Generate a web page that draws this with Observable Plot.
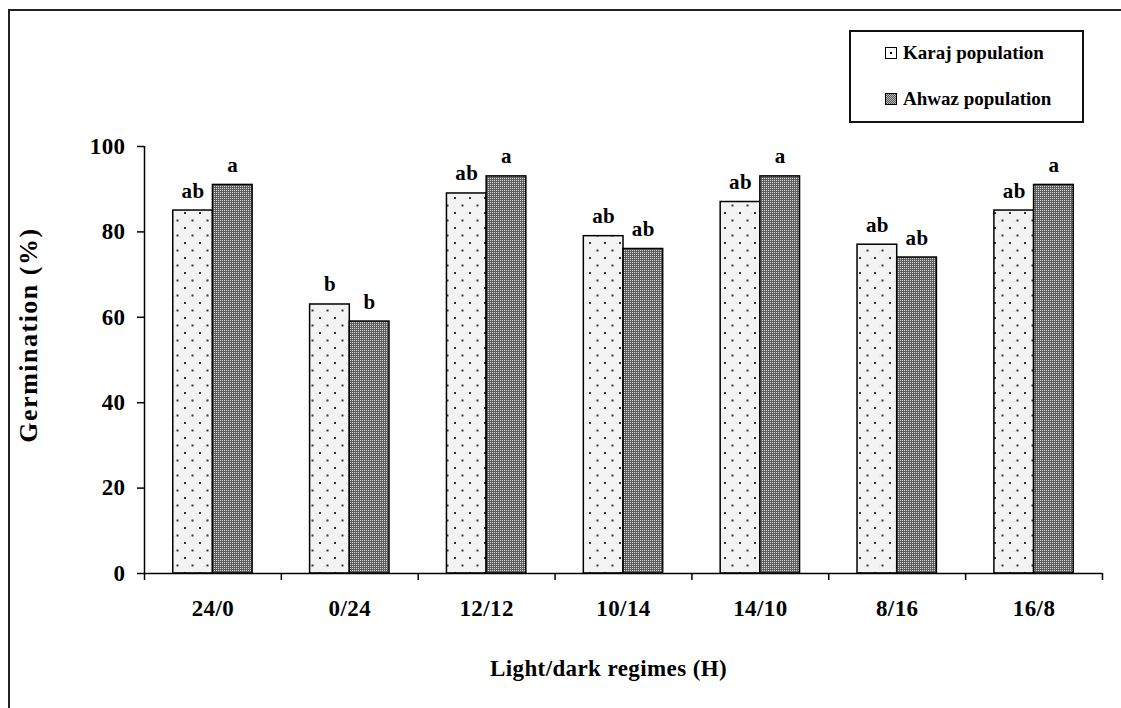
<!DOCTYPE html>
<html>
<head>
<meta charset="utf-8">
<script src="https://cdn.jsdelivr.net/npm/d3@7"></script>
<script src="https://cdn.jsdelivr.net/npm/@observablehq/plot@0.6"></script>
<style>
  html, body { margin: 0; padding: 0; background: #fff; }
  #wrap { position: relative; width: 1121px; height: 708px; overflow: hidden; font-family: "Liberation Serif", "Times New Roman", serif; }
  #frame { position: absolute; left: 8px; top: 9px; width: 1200px; height: 800px; border-left: 2px solid #222; border-top: 2px solid #222; }
  #chart { position: absolute; left: 0; top: 0; }
  #chart svg text { letter-spacing: 0.4px; }
  #legend { position: absolute; left: 849px; top: 30px; width: 231px; height: 89px; border: 2px solid #111; background: #fff; }
  .item { position: absolute; left: 34px; display: flex; align-items: center; font-weight: bold; font-size: 19px; color: #000; }
  .sw { width: 10px; height: 10px; border: 1px solid #000; margin-right: 6px; box-sizing: content-box; }
</style>
</head>
<body>
<div id="wrap">
  <div id="frame"></div>
  <div id="chart"></div>
  <div id="legend"></div>
</div>
<script>
// ---- data ----
const regimes = ["24/0", "0/24", "12/12", "10/14", "14/10", "8/16", "16/8"];
const karajValues = [85, 63, 89, 79, 87, 77, 85];
const ahwazValues = [91, 59, 93, 76, 93, 74, 91];
const karajLetters = ["ab", "b", "ab", "ab", "ab", "ab", "ab"];
const ahwazLetters = ["a", "b", "a", "ab", "a", "ab", "a"];
const seriesNames = ["Karaj population", "Ahwaz population"];
const yTicks = [0, 20, 40, 60, 80, 100];
const xTitle = "Light/dark regimes (H)";
const yTitle = "Germination (%)";

const karaj = regimes.map((r, i) => ({regime: r, i, value: karajValues[i], letter: karajLetters[i]}));
const ahwaz = regimes.map((r, i) => ({regime: r, i, value: ahwazValues[i], letter: ahwazLetters[i]}));

const family = "Liberation Serif, Times New Roman, serif";
const font = {fontFamily: family, fontWeight: "bold", fontSize: 23};

const plot = Plot.plot({
  width: 1121,
  height: 708,
  marginLeft: 144,
  marginRight: 19,
  marginTop: 146,
  marginBottom: 135,
  style: {fontFamily: family, fontWeight: "bold", fontSize: "23px", color: "#000", background: "transparent"},
  x: {type: "linear", domain: [0, regimes.length], axis: null},
  y: {domain: [0, 100], axis: null},
  marks: [
    Plot.rectY(karaj, {x1: d => d.i + 0.21, x2: d => d.i + 0.5, y: "value", fill: "url(#patKaraj)", stroke: "#000", strokeWidth: 1.5}),
    Plot.rectY(ahwaz, {x1: d => d.i + 0.5, x2: d => d.i + 0.79, y: "value", fill: "url(#patAhwaz)", stroke: "#000", strokeWidth: 1.5}),
    Plot.text(karaj, {x: d => d.i + 0.355, y: "value", text: "letter", lineAnchor: "bottom", dy: -13, fill: "#000", fontSize: 21, fontWeight: "bold"}),
    Plot.text(ahwaz, {x: d => d.i + 0.645, y: "value", text: "letter", lineAnchor: "bottom", dy: -13, fill: "#000", fontSize: 21, fontWeight: "bold"}),
    Plot.ruleY([0], {stroke: "#000", strokeWidth: 1.5}),
    Plot.ruleX([0], {stroke: "#000", strokeWidth: 1.5}),
    Plot.axisX({ticks: d3.range(0, regimes.length + 1), tickFormat: () => "", tickSize: 7, stroke: "#000", strokeWidth: 1.5, label: null}),
    Plot.axisX({ticks: regimes.map((r, i) => i + 0.5), tickFormat: v => regimes[Math.floor(v)], tickSize: 0, tickPadding: 26, label: null, ...font}),
    Plot.axisY({ticks: yTicks, tickSize: 7, tickPadding: 12, stroke: "#000", strokeWidth: 1.5, label: null, ...font}),
    Plot.text([xTitle], {frameAnchor: "bottom", textAnchor: "middle", lineAnchor: "middle", dx: -15, dy: 95, ...font}),
    Plot.text([yTitle], {frameAnchor: "left", textAnchor: "middle", rotate: -90, lineAnchor: "middle", dx: -116, dy: -25, fontFamily: family, fontWeight: "bold", fontSize: 26})
  ]
});

// wider spacing for the rotated y title
d3.select(plot).selectAll("text").filter(function() { return this.textContent === yTitle; }).style("letter-spacing", "1.5px");

// patterns
const ns = "http://www.w3.org/2000/svg";
const defs = document.createElementNS(ns, "defs");
defs.innerHTML = `
  <pattern id="patKaraj" patternUnits="userSpaceOnUse" x="0" y="0" width="15" height="15">
    <rect width="15" height="15" fill="#f3f3f3"/>
    <rect x="1" y="3" width="1" height="1" fill="#dcdcdc"/>
    <rect x="9" y="11" width="1" height="1" fill="#dcdcdc"/>
    <rect x="4" y="2" width="2" height="2" fill="#333"/>
    <rect x="11.5" y="9.5" width="2" height="2" fill="#333"/>
  </pattern>
  <pattern id="patAhwaz" patternUnits="userSpaceOnUse" x="0" y="0" width="2" height="2">
    <rect width="2" height="2" fill="#5e5e5e"/>
    <rect x="0" y="0" width="1" height="1" fill="#d8d8d8"/>
  </pattern>`;
plot.insertBefore(defs, plot.firstChild);
document.getElementById("chart").appendChild(plot);

// legend
const legend = document.getElementById("legend");
seriesNames.forEach((name, k) => {
  const item = document.createElement("div");
  item.className = "item";
  item.style.top = (k === 0 ? 10 : 56) + "px";
  const sw = document.createElement("span");
  sw.className = "sw";
  sw.style.background = k === 0
    ? "radial-gradient(circle, #000 1.2px, #fff 1.6px)"
    : "repeating-conic-gradient(#555 0 25%, #bbb 0 50%) 0 0 / 2px 2px";
  item.appendChild(sw);
  const t = document.createElement("span");
  t.textContent = name;
  item.appendChild(t);
  legend.appendChild(item);
});
</script>
</body>
</html>
